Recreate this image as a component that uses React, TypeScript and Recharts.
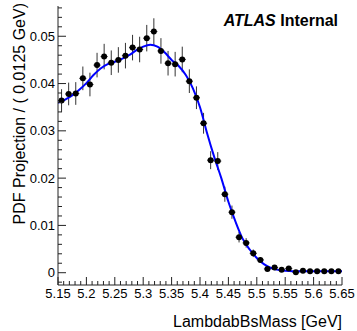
import { ComposedChart, Scatter, Line, XAxis, YAxis, ErrorBar } from 'recharts';

// bin centres (bin width 0.0125 GeV)
const binCenters = [
    5.15625, 5.16875, 5.18125, 5.19375, 5.20625, 5.21875, 5.23125, 5.24375, 5.25625, 5.26875,
    5.28125, 5.29375, 5.30625, 5.31875, 5.33125, 5.34375, 5.35625, 5.36875, 5.38125, 5.39375,
    5.40625, 5.41875, 5.43125, 5.44375, 5.45625, 5.46875, 5.48125, 5.49375, 5.50625, 5.51875,
    5.53125, 5.54375, 5.55625, 5.56875, 5.58125, 5.59375, 5.60625, 5.61875, 5.63125, 5.64375
];

const dataValues = [
    0.0364, 0.0378, 0.0379, 0.0411, 0.0398, 0.0439, 0.0457, 0.0444, 0.0450, 0.0459,
    0.0476, 0.0472, 0.0496, 0.0510, 0.0469, 0.0443, 0.0441, 0.0451, 0.0405, 0.0370,
    0.0316, 0.0238, 0.0236, 0.0166, 0.0128, 0.0075, 0.0063, 0.0041, 0.0027, 0.0008,
    0.0011, 0.0006, 0.0009, 0.0001, 0.0004, 0.0003, 0.0003, 0.0003, 0.0003, 0.0003
];

const dataErrors = [
    0.0024, 0.0024, 0.0024, 0.0025, 0.0025, 0.0026, 0.0027, 0.0026, 0.0027, 0.0027,
    0.0027, 0.0027, 0.0028, 0.0028, 0.0027, 0.0026, 0.0026, 0.0027, 0.0025, 0.0024,
    0.0022, 0.0019, 0.0019, 0.0016, 0.0014, 0.0011, 0.0010, 0.0008, 0.0006, 0.0004,
    0.0004, 0.0003, 0.0004, 0.0001, 0.0003, 0.0002, 0.0002, 0.0002, 0.0002, 0.0002
];

const halfBin = 0.00625;

// fitted PDF, read at bin edges
const curveX = [
    5.15, 5.1625, 5.175, 5.1875, 5.2, 5.2125, 5.225, 5.2375, 5.25, 5.2625,
    5.275, 5.2875, 5.3, 5.3125, 5.325, 5.3375, 5.35, 5.3625, 5.375, 5.3875,
    5.4, 5.4125, 5.425, 5.4375, 5.45, 5.4625, 5.475, 5.4875, 5.5, 5.5125,
    5.525, 5.5375, 5.55, 5.5625, 5.575, 5.5875, 5.6, 5.6125, 5.625, 5.6375, 5.65
];

const curveY = [
    0.0359, 0.0366, 0.0375, 0.0387, 0.0401, 0.0418, 0.0432, 0.0441, 0.0446, 0.0452,
    0.0460, 0.0470, 0.0478, 0.0482, 0.0478, 0.0466, 0.0450, 0.0437, 0.0418, 0.0390,
    0.0350, 0.0295, 0.0245, 0.0200, 0.0150, 0.0108, 0.0072, 0.0049, 0.0031, 0.0018,
    0.0010, 0.0006, 0.0004, 0.0003, 0.0003, 0.0003, 0.0003, 0.0003, 0.0003, 0.0003, 0.0003
];

const xTicks = [
    5.15, 5.16, 5.17, 5.18, 5.19, 5.2, 5.21, 5.22, 5.23, 5.24, 5.25, 5.26, 5.27, 5.28, 5.29,
    5.3, 5.31, 5.32, 5.33, 5.34, 5.35, 5.36, 5.37, 5.38, 5.39, 5.4, 5.41, 5.42, 5.43, 5.44,
    5.45, 5.46, 5.47, 5.48, 5.49, 5.5, 5.51, 5.52, 5.53, 5.54, 5.55, 5.56, 5.57, 5.58, 5.59,
    5.6, 5.61, 5.62, 5.63, 5.64, 5.65
];
const xLabels = [5.15, 5.2, 5.25, 5.3, 5.35, 5.4, 5.45, 5.5, 5.55, 5.6, 5.65];

const yTicks = [
    -0.002, 0, 0.002, 0.004, 0.006, 0.008, 0.01, 0.012, 0.014, 0.016, 0.018, 0.02,
    0.022, 0.024, 0.026, 0.028, 0.03, 0.032, 0.034, 0.036, 0.038, 0.04, 0.042, 0.044,
    0.046, 0.048, 0.05, 0.052, 0.054, 0.056
];
const yLabels = [0, 0.01, 0.02, 0.03, 0.04, 0.05];

const points = binCenters.map((x, i) => ({ x, y: dataValues[i], ey: dataErrors[i], ex: halfBin }));
const curve = curveX.map((x, i) => ({ x, y: curveY[i] }));

const FONT = '"Liberation Sans", Arial, sans-serif';
const isIn = (list: number[], v: number) => list.some((l) => Math.abs(l - v) < 1e-9);

const BottomTick = (props: any) => {
    const { x, y, payload } = props;
    const major = isIn(xLabels, payload.value);
    return (
        <g>
            <line x1={x} x2={x} y1={y} y2={y - (major ? 8 : 4)} stroke="#222" />
            {major && (
                <text x={x} y={y + 12.5} textAnchor="middle" fontSize={13} fontFamily={FONT} fill="#000">
                    {String(parseFloat(payload.value.toFixed(2)))}
                </text>
            )}
        </g>
    );
};

const TopTick = (props: any) => {
    const { x, y, payload } = props;
    const major = isIn(xLabels, payload.value);
    return <line x1={x} x2={x} y1={y} y2={y + (major ? 8 : 4)} stroke="#222" />;
};

const LeftTick = (props: any) => {
    const { x, y, payload } = props;
    const major = isIn(yLabels, payload.value);
    return (
        <g>
            <line x1={x} x2={x + (major ? 8 : 4)} y1={y} y2={y} stroke="#222" />
            {major && (
                <text x={x - 3} y={y + 4.5} textAnchor="end" fontSize={13} fontFamily={FONT} fill="#000">
                    {payload.value === 0 ? '0' : payload.value.toFixed(2)}
                </text>
            )}
        </g>
    );
};

const RightTick = (props: any) => {
    const { x, y, payload } = props;
    const major = isIn(yLabels, payload.value);
    return <line x1={x} x2={x - (major ? 8 : 4)} y1={y} y2={y} stroke="#222" />;
};

export default function App() {
    return (
        <div style={{ position: 'absolute', left: 0, top: 0, width: 357, height: 331, background: '#fff' }}>
            <ComposedChart width={357} height={331} margin={{ top: 6, right: 15, left: 0, bottom: 0 }}>
                <XAxis
                    xAxisId={0}
                    dataKey="x"
                    type="number"
                    domain={[5.15, 5.65]}
                    ticks={xTicks}
                    interval={0}
                    height={46}
                    tickSize={0}
                    tickMargin={0}
                    tickLine={false}
                    tick={<BottomTick />}
                    axisLine={{ stroke: '#222' }}
                    allowDataOverflow
                />
                <XAxis
                    xAxisId="top"
                    orientation="top"
                    dataKey="x"
                    type="number"
                    domain={[5.15, 5.65]}
                    ticks={xTicks}
                    interval={0}
                    height={0}
                    tickSize={0}
                    tickMargin={0}
                    tickLine={false}
                    tick={<TopTick />}
                    axisLine={{ stroke: '#222' }}
                    allowDataOverflow
                />
                <YAxis
                    yAxisId={0}
                    type="number"
                    domain={[-0.0026, 0.0564]}
                    ticks={yTicks}
                    interval={0}
                    width={58}
                    tickSize={0}
                    tickMargin={0}
                    tickLine={false}
                    tick={<LeftTick />}
                    axisLine={{ stroke: '#222' }}
                    allowDataOverflow
                />
                <YAxis
                    yAxisId="right"
                    orientation="right"
                    type="number"
                    domain={[-0.0026, 0.0564]}
                    ticks={yTicks}
                    interval={0}
                    width={0}
                    tickSize={0}
                    tickMargin={0}
                    tickLine={false}
                    tick={<RightTick />}
                    axisLine={{ stroke: '#222' }}
                    allowDataOverflow
                />
                <Scatter
                    data={points}
                    dataKey="y"
                    isAnimationActive={false}
                    shape={(p: any) => <circle cx={p.cx} cy={p.cy} r={3} fill="#000" />}
                >
                    <ErrorBar dataKey="ey" direction="y" width={0} stroke="#333" strokeWidth={1} />
                    <ErrorBar dataKey="ex" direction="x" width={0} stroke="#333" strokeWidth={1} />
                </Scatter>
                <Line
                    data={curve}
                    dataKey="y"
                    type="monotone"
                    stroke="#0000ff"
                    strokeWidth={2}
                    dot={false}
                    isAnimationActive={false}
                />
            </ComposedChart>
            <svg
                width={357}
                height={331}
                style={{ position: 'absolute', left: 0, top: 0, pointerEvents: 'none' }}
            >
                <text
                    transform="translate(25,3) rotate(-90)"
                    textAnchor="end"
                    fontSize={16}
                    fontFamily={FONT}
                    fill="#000"
                >
                    PDF Projection / ( 0.0125 GeV)
                </text>
                <text x={342} y={327} textAnchor="end" fontSize={16} fontFamily={FONT} fill="#000">
                    LambdabBsMass [GeV]
                </text>
                <text x={338} y={25.5} textAnchor="end" fontSize={16} fontFamily={FONT} fontWeight="bold" fill="#000">
                    <tspan fontStyle="italic">ATLAS</tspan>
                    <tspan> Internal</tspan>
                </text>
            </svg>
        </div>
    );
}
